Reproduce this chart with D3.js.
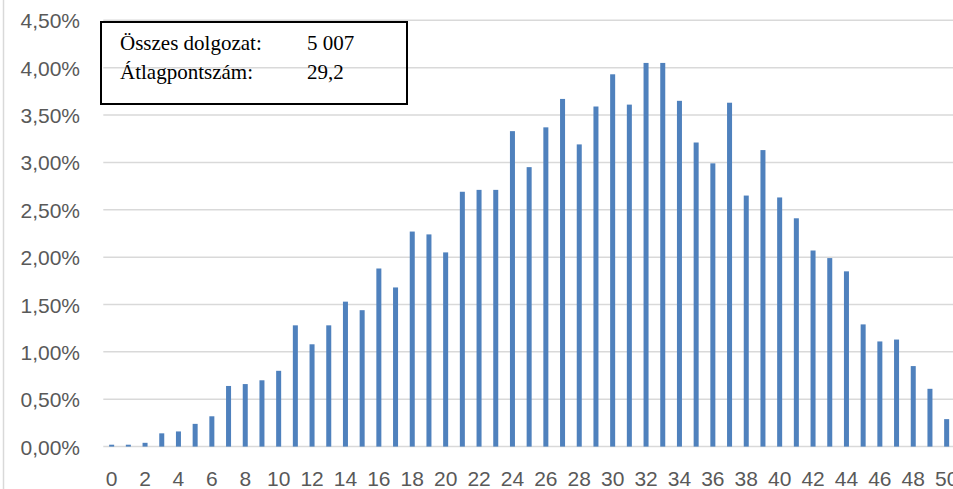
<!DOCTYPE html>
<html>
<head>
<meta charset="utf-8">
<script src="https://cdn.jsdelivr.net/npm/d3@7"></script>
<style>
  html, body { margin: 0; padding: 0; background: #fff; }
  svg { display: block; }
</style>
</head>
<body>
<svg id="chart" width="953" height="489"></svg>
<script>
// ---- data ----
const categories = [0,1,2,3,4,5,6,7,8,9,10,11,12,13,14,15,16,17,18,19,20,21,22,23,24,25,26,27,28,29,30,31,32,33,34,35,36,37,38,39,40,41,42,43,44,45,46,47,48,49,50];
const shares = [0.02,0.02,0.04,0.14,0.16,0.24,0.32,0.64,0.66,0.70,0.80,1.28,1.08,1.28,1.53,1.44,1.88,1.68,2.27,2.24,2.05,2.69,2.71,2.71,3.33,2.95,3.37,3.67,3.19,3.59,3.93,3.61,4.05,4.05,3.65,3.21,2.99,3.63,2.65,3.13,2.63,2.41,2.07,1.99,1.85,1.29,1.11,1.13,0.85,0.61,0.29];
const yTicks = [0,0.5,1,1.5,2,2.5,3,3.5,4,4.5];
const xTickLabels = [0,2,4,6,8,10,12,14,16,18,20,22,24,26,28,30,32,34,36,38,40,42,44,46,48,50];
const infoLabels = ["Összes dolgozat:", "Átlagpontszám:"];
const infoValues = ["5 007", "29,2"];

// ---- layout ----
const W = 953, H = 489;
const plotLeft = 103.3, plotRight = 955, plotTop = 20.3, plotBottom = 446.6;

const svg = d3.select("#chart");

const x = d3.scaleBand()
  .domain(categories)
  .range([plotLeft, plotRight])
  .paddingInner(0.7)
  .paddingOuter(0.35);

const y = d3.scaleLinear()
  .domain([0, 4.5])
  .range([plotBottom, plotTop]);

const fmt = v => v.toFixed(2).replace(".", ",") + "%";

// chart area left border
svg.append("line")
  .attr("x1", 3.5).attr("x2", 3.5)
  .attr("y1", 0).attr("y2", H)
  .attr("stroke", "#d9d9d9").attr("stroke-width", 1.5);

// gridlines
svg.append("g")
  .selectAll("line")
  .data(yTicks)
  .join("line")
  .attr("x1", plotLeft).attr("x2", W)
  .attr("y1", d => y(d)).attr("y2", d => y(d))
  .attr("stroke", "#d9d9d9").attr("stroke-width", 1.5);

// y axis labels
const yAxis = d3.axisLeft(y)
  .tickValues(yTicks)
  .tickFormat(fmt)
  .tickSize(0)
  .tickPadding(0);
const gy = svg.append("g")
  .attr("transform", `translate(80,0)`)
  .call(yAxis);
gy.select(".domain").remove();
gy.selectAll("text")
  .attr("font-family", "'Liberation Sans', Arial, sans-serif")
  .attr("font-size", 21)
  .attr("fill", "#595959")
  .attr("dy", "0.36em");

// bars
svg.append("g")
  .selectAll("rect")
  .data(categories)
  .join("rect")
  .attr("x", (d) => x(d))
  .attr("width", x.bandwidth())
  .attr("y", (d, i) => y(shares[i]))
  .attr("height", (d, i) => plotBottom - y(shares[i]))
  .attr("fill", "#4f81bd");

// x axis labels
const xAxis = d3.axisBottom(x)
  .tickValues(xTickLabels)
  .tickSize(0)
  .tickPadding(0);
const gx = svg.append("g")
  .attr("transform", `translate(0,${plotBottom})`)
  .call(xAxis);
gx.select(".domain").remove();
gx.selectAll("text")
  .attr("font-family", "'Liberation Sans', Arial, sans-serif")
  .attr("font-size", 21)
  .attr("fill", "#595959")
  .attr("dy", null)
  .attr("y", 39.5);

// info box
svg.append("rect")
  .attr("x", 101).attr("y", 22)
  .attr("width", 306).attr("height", 82)
  .attr("fill", "none")
  .attr("stroke", "#000").attr("stroke-width", 2);

const info = svg.append("g")
  .attr("font-family", "'Liberation Serif', 'Times New Roman', serif")
  .attr("font-size", 21)
  .attr("fill", "#000");
info.selectAll("text.lab")
  .data(infoLabels)
  .join("text")
  .attr("class", "lab")
  .attr("x", 120)
  .attr("y", (d, i) => 50 + i * 29)
  .text(d => d);
info.selectAll("text.val")
  .data(infoValues)
  .join("text")
  .attr("class", "val")
  .attr("x", 307)
  .attr("y", (d, i) => 50 + i * 29)
  .text(d => d);
</script>
</body>
</html>
